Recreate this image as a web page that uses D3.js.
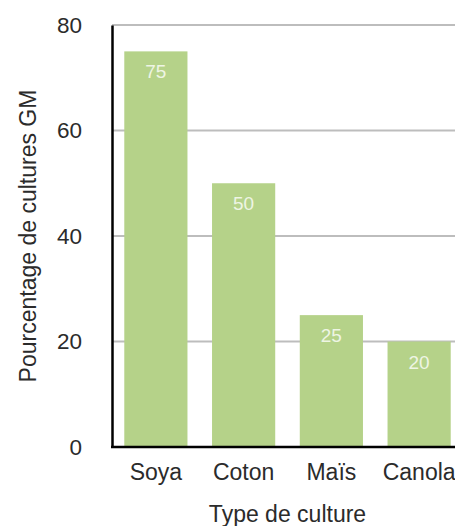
<!DOCTYPE html>
<html>
<head>
<meta charset="utf-8">
<script src="https://cdn.jsdelivr.net/npm/d3@7"></script>
<style>
  html, body { margin: 0; padding: 0; background: #fff; }
  svg text { font-family: "Helvetica Neue", "Liberation Sans", Arial, sans-serif; }
</style>
</head>
<body>
<svg id="chart" width="455" height="526"></svg>
<script>
const categories = ["Soya", "Coton", "Maïs", "Canola"];
const values = [75, 50, 25, 20];
const yTicks = [0, 20, 40, 60, 80];

const svg = d3.select("#chart");
const width = +svg.attr("width");
const x0 = 112, yTop = 25, yBottom = 447;

const x = d3.scaleBand()
  .domain(categories)
  .range([x0, 463])
  .paddingInner(0.28)
  .paddingOuter(0.14);

const y = d3.scaleLinear()
  .domain([0, 80])
  .range([yBottom, yTop]);

// grid lines
svg.append("g")
  .selectAll("line")
  .data(yTicks.filter(d => d > 0))
  .join("line")
  .attr("x1", x0)
  .attr("x2", width)
  .attr("y1", d => y(d))
  .attr("y2", d => y(d))
  .attr("stroke", "#bdbdbd")
  .attr("stroke-width", 2);

// bars
svg.append("g")
  .selectAll("rect")
  .data(values)
  .join("rect")
  .attr("x", (d, i) => x(categories[i]))
  .attr("y", d => y(d))
  .attr("width", x.bandwidth())
  .attr("height", d => yBottom - y(d))
  .attr("fill", "#b5d289");

// value labels
svg.append("g")
  .selectAll("text")
  .data(values)
  .join("text")
  .attr("x", (d, i) => x(categories[i]) + x.bandwidth() / 2)
  .attr("y", d => y(d) + 27)
  .attr("text-anchor", "middle")
  .attr("fill", "#eef5e4")
  .style("font-size", "19px")
  .text(d => d);

// y axis
const yAxis = svg.append("g")
  .attr("transform", `translate(${x0},0)`)
  .call(d3.axisLeft(y).tickValues(yTicks).tickSize(0).tickPadding(30));
yAxis.select(".domain").attr("stroke", "#000").attr("stroke-width", 2.5);
yAxis.selectAll("text")
  .attr("fill", "#2b2b2b")
  .style("font-size", "22.5px");

// x axis
const xAxis = svg.append("g")
  .attr("transform", `translate(0,${yBottom})`)
  .call(d3.axisBottom(x).tickSize(0).tickPadding(17));
xAxis.select(".domain").remove();
xAxis.selectAll("text")
  .attr("fill", "#2b2b2b")
  .style("font-size", "23px");

svg.append("line")
  .attr("x1", x0 - 1)
  .attr("x2", width)
  .attr("y1", yBottom)
  .attr("y2", yBottom)
  .attr("stroke", "#000")
  .attr("stroke-width", 2.5);

// axis titles
svg.append("text")
  .attr("x", (x0 + 463) / 2)
  .attr("y", 522)
  .attr("text-anchor", "middle")
  .attr("fill", "#2b2b2b")
  .style("font-size", "23px")
  .text("Type de culture");

svg.append("text")
  .attr("transform", `translate(36,${(yTop + yBottom) / 2}) rotate(-90)`)
  .attr("text-anchor", "middle")
  .attr("fill", "#2b2b2b")
  .style("font-size", "23px")
  .text("Pourcentage de cultures GM");
</script>
</body>
</html>
